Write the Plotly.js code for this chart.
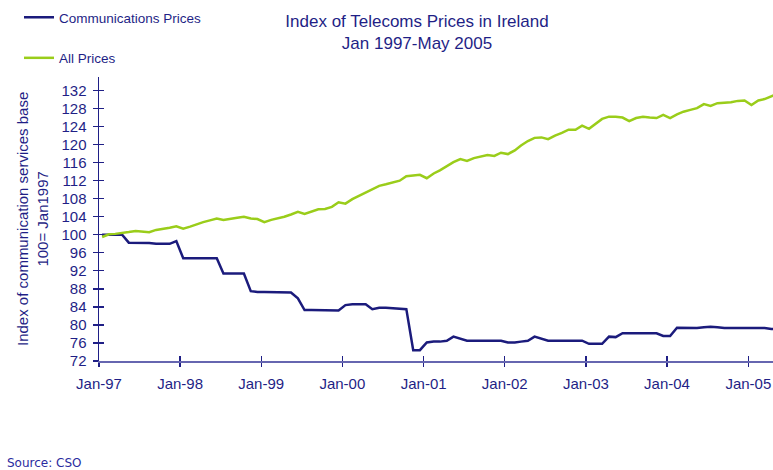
<!DOCTYPE html>
<html><head><meta charset="utf-8">
<script src="https://cdn.plot.ly/plotly-3.0.1.min.js"></script>
<style>html,body{margin:0;padding:0;background:#fff}#chart{width:773px;height:470px}</style>
</head><body><div id="chart"></div>
<script>
// Monthly categories Jan 1997 .. May 2005 (points plotted mid-month)
const startYear = 1997;
const monthCount = 101;
const months = [];
for (let i = 0; i < monthCount; i++) {
  const y = startYear + Math.floor(i / 12);
  const m = (i % 12) + 1;
  months.push(y + '-' + String(m).padStart(2, '0') + '-15');
}

const communicationsPrices = [
  100, 100, 100, 100,
  98.25, 98.25, 98.25, 98.2,
  98.0, 98.0, 98.0,
  98.6,
  94.8, 94.8, 94.8, 94.8, 94.8, 94.8,
  91.4, 91.4, 91.4, 91.4,
  87.5,
  87.3, 87.3, 87.3, 87.3, 87.3, 87.2,
  85.9,
  83.3, 83.3, 83.3, 83.3, 83.3, 83.2,
  84.4,
  84.6, 84.6, 84.6,
  83.5,
  83.8, 83.8, 83.7, 83.6,
  83.5,
  74.4, 74.4,
  76.1,
  76.3, 76.3,
  76.5,
  77.4,
  76.9,
  76.5, 76.5, 76.5, 76.5, 76.5, 76.5,
  76.1, 76.1,
  76.3,
  76.5,
  77.4,
  77.0,
  76.5, 76.5, 76.5, 76.5, 76.5, 76.5,
  75.8, 75.8, 75.8,
  77.4,
  77.3,
  78.15, 78.15, 78.15, 78.15, 78.15, 78.15,
  77.55, 77.55,
  79.4, 79.4, 79.3, 79.3,
  79.5,
  79.6,
  79.5,
  79.3, 79.3, 79.3, 79.3,
  79.4,
  79.3, 79.3,
  79.1, 79.0
];

const allPrices = [
  99.5, 100.1, 100.2, 100.35, 100.6, 100.86, 100.7, 100.57, 101.08, 101.23, 101.55, 101.9,
  101.37, 101.8, 102.3, 102.8, 103.2, 103.6, 103.3, 103.6, 103.8, 104.0, 103.6, 103.5,
  102.8, 103.3, 103.6, 104.0, 104.5, 105.07, 104.6, 105.2, 105.67, 105.74, 106.2, 107.2,
  106.9, 107.9, 108.6, 109.4, 110.1, 110.85, 111.2, 111.6, 112.0, 113.0, 113.2, 113.3,
  112.55, 113.6, 114.3, 115.3, 116.1, 116.8, 116.4, 117.0, 117.4, 117.7, 117.5, 118.2,
  117.9, 118.7, 119.8, 120.8, 121.5, 121.6, 121.2, 122.0, 122.6, 123.3, 123.3, 124.2,
  123.5, 124.7, 125.7, 126.2, 126.2, 126.0, 125.2, 125.9, 126.2, 126.0, 125.9, 126.6,
  125.9, 126.7, 127.3, 127.7, 128.1, 129.0, 128.6, 129.2, 129.3, 129.4, 129.7, 129.8,
  128.8, 129.8, 130.1, 130.8, 131.3
];

const yTicks = [72, 76, 80, 84, 88, 92, 96, 100, 104, 108, 112, 116, 120, 124, 128, 132];
const xTickDates = ['1997-01-01','1998-01-01','1999-01-01','2000-01-01','2001-01-01','2002-01-01','2003-01-01','2004-01-01','2005-01-01'];
const xTickLabels = ['Jan-97','Jan-98','Jan-99','Jan-00','Jan-01','Jan-02','Jan-03','Jan-04','Jan-05'];
const xRange = ['1997-01-01', '2005-04-22'];
const yRange = [72, 135];

const navy = '#1f1f86';
const lineNavy = '#1b1b7c';
const green = '#9acd1a';

const traces = [
  { x: months, y: communicationsPrices, type: 'scatter', mode: 'lines', name: 'Communications Prices',
    legendgroup: 'a', line: { color: lineNavy, width: 2.5 }, hoverinfo: 'skip' },
  { x: months, y: allPrices, type: 'scatter', mode: 'lines', name: 'All Prices',
    legendgroup: 'b', line: { color: green, width: 2.5 }, hoverinfo: 'skip' },
  { x: months, y: allPrices, type: 'scatter', mode: 'none', xaxis: 'x2', yaxis: 'y2',
    showlegend: false, hoverinfo: 'skip' }
];

const layout = {
  width: 773, height: 470,
  margin: { l: 99, r: 0, t: 77, b: 109, autoexpand: false },
  paper_bgcolor: '#ffffff', plot_bgcolor: '#ffffff',
  font: { family: 'Liberation Sans, Arial, sans-serif', color: navy, size: 15 },
  title: {
    text: 'Index of Telecoms Prices in Ireland<br>Jan 1997-May 2005',
    font: { size: 17, color: navy },
    xref: 'container', x: 417 / 773, xanchor: 'center',
    yref: 'container', y: 1 - 27 / 470, yanchor: 'top'
  },
  showlegend: true,
  legend: {
    xref: 'container', x: 19 / 773, xanchor: 'left',
    yref: 'container', y: 1 - 2 / 470, yanchor: 'top',
    font: { size: 13.5, color: navy }, tracegroupgap: 20,
    bgcolor: 'rgba(0,0,0,0)', itemwidth: 30
  },
  xaxis: {
    type: 'date', range: xRange, tickvals: xTickDates, ticktext: xTickLabels,
    ticks: 'outside', ticklen: 4, tickwidth: 1.3, tickcolor: navy,
    showline: true, linecolor: '#6666b0', linewidth: 2.2,
    showgrid: false, zeroline: false, ticklabelstandoff: 4, automargin: false,
    tickfont: { size: 15, color: navy }
  },
  xaxis2: {
    type: 'date', overlaying: 'x', range: xRange, tickvals: xTickDates,
    ticks: 'inside', ticklen: 5, tickwidth: 1.3, tickcolor: navy,
    showticklabels: false, showline: false, showgrid: false, zeroline: false
  },
  yaxis: {
    range: yRange, tickvals: yTicks, ticks: 'outside', ticklen: 5, tickwidth: 1.3, tickcolor: navy,
    showline: true, linecolor: navy, linewidth: 1.5,
    showgrid: false, zeroline: false, ticklabelstandoff: 3, automargin: false,
    tickfont: { size: 15, color: navy }
  },
  yaxis2: {
    overlaying: 'y', range: yRange, tickvals: yTicks,
    ticks: 'inside', ticklen: 5, tickwidth: 1.3, tickcolor: navy,
    showticklabels: false, showline: false, showgrid: false, zeroline: false
  },
  annotations: [
    { text: 'Index of communication services base<br>100= Jan1997', textangle: -90,
      xref: 'paper', x: (32 - 99) / 674, xanchor: 'center',
      yref: 'paper', y: 0.5, yanchor: 'middle', showarrow: false,
      font: { size: 15, color: navy } },
    { text: 'Source: CSO', xref: 'paper', x: (5 - 99) / 674, xanchor: 'left',
      yref: 'paper', y: (361 - 463) / 284, yanchor: 'middle', showarrow: false,
      font: { family: 'DejaVu Sans, Verdana, sans-serif', size: 12, color: '#2b2ba0' } }
  ]
};

Plotly.newPlot('chart', traces, layout, { displayModeBar: false, staticPlot: true });
</script>
</body></html>
